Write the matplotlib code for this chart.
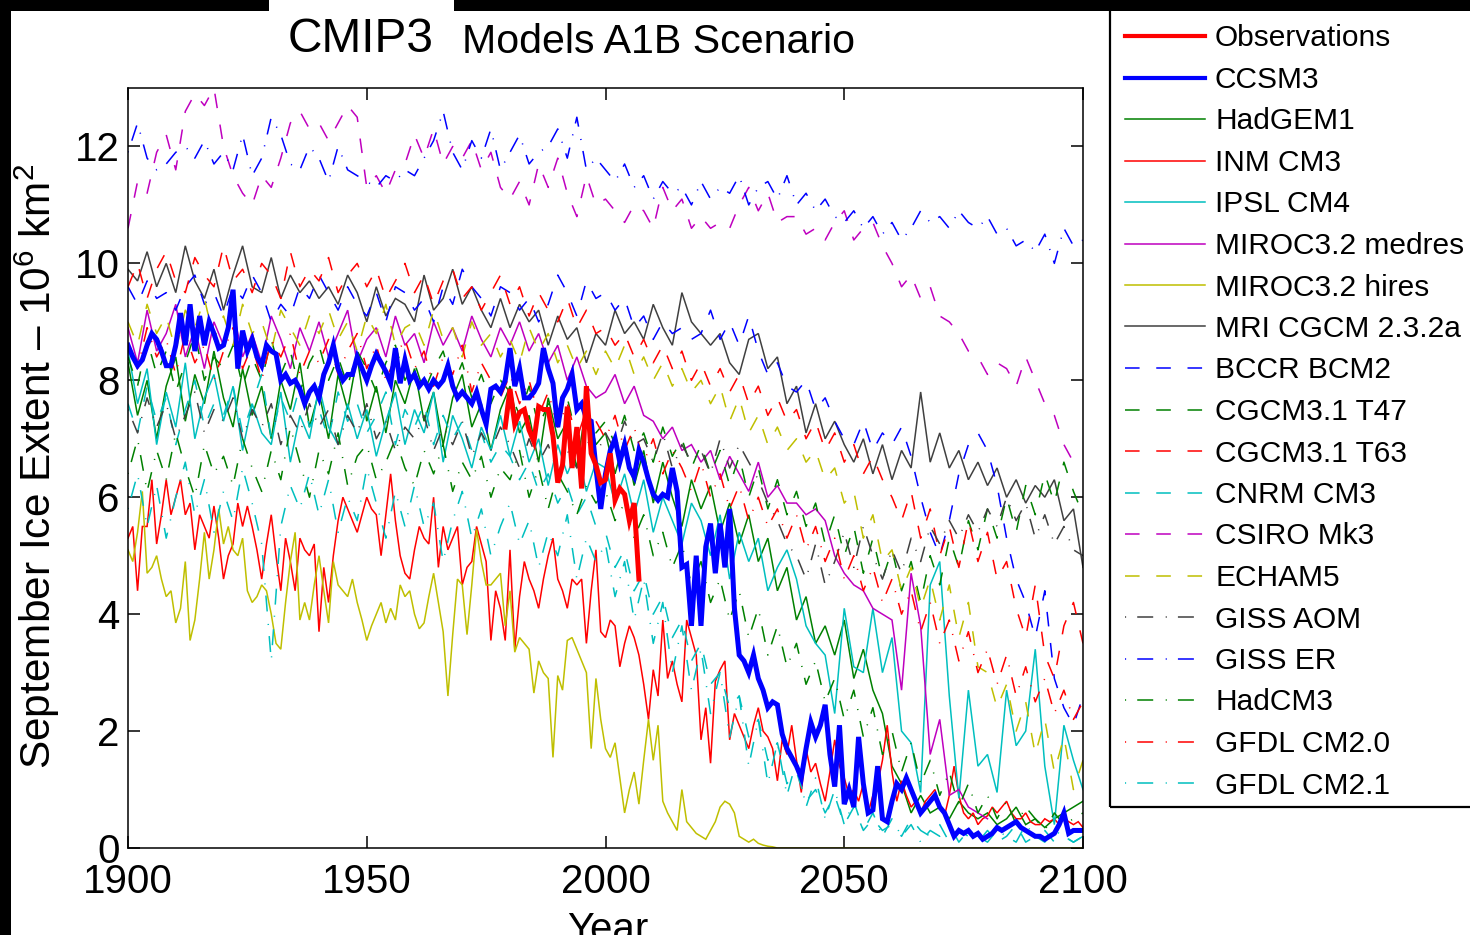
import matplotlib
matplotlib.use('Agg')
import matplotlib.pyplot as plt
from matplotlib.lines import Line2D
from matplotlib.patches import Rectangle

plt.rcParams['font.family'] = ['Liberation Sans', 'DejaVu Sans']
plt.rcParams['mathtext.fontset'] = 'custom'
plt.rcParams['mathtext.rm'] = 'Liberation Sans'
plt.rcParams['mathtext.it'] = 'Liberation Sans:italic'
plt.rcParams['lines.scale_dashes'] = False

# ---------------- data ----------------
YEARS_1 = list(range(1900, 2101))          # yearly series
YEARS_2 = list(range(1900, 2101, 2))       # two-yearly series
YEARS_MEDRES = list(range(1900, 2081, 2))
YEARS_OBS = list(range(1979, 2008))

X_TICKS = [1900, 1950, 2000, 2050, 2100]
Y_TICKS = [0, 2, 4, 6, 8, 10, 12]

obs = [7.2, 7.85, 7.25, 7.45, 7.5, 7.15, 6.95, 7.55, 7.5, 7.5,
       7.05, 6.25, 6.55, 7.55, 6.5, 7.2, 6.15, 7.9, 6.75, 6.55,
       6.25, 6.3, 6.75, 5.95, 6.15, 6.05, 5.6, 5.9, 4.6]

ccsm3 = [8.6, 8.4, 8.25, 8.35, 8.6, 8.8, 8.7, 8.5, 8.25, 8.25,
         8.6, 9.15, 8.6, 9.3, 8.5, 9.1, 8.6, 9.0, 8.8, 8.55,
         8.6, 8.9, 9.55, 8.2, 8.85, 8.5, 8.7, 8.4, 8.25, 8.6,
         8.5, 8.45, 8.0, 8.1, 7.95, 8.0, 7.85, 7.6, 7.8, 7.9,
         7.7, 8.1, 8.3, 8.6, 8.2, 8.0, 8.1, 8.1, 8.4, 8.2,
         8.0, 8.25, 8.45, 8.3, 8.15, 7.95, 8.55, 7.95, 8.35, 8.0,
         8.1, 7.9, 8.0, 7.85, 8.0, 7.9, 8.0, 8.25, 7.9, 7.7,
         7.8, 7.7, 7.6, 7.8, 7.5, 7.25, 7.85, 7.9, 7.8, 8.0,
         8.55, 7.9, 8.2, 7.7, 7.7, 7.8, 7.95, 8.55, 8.2, 7.95,
         7.2, 7.7, 7.85, 8.1, 7.5, 7.6, 7.35, 7.3, 6.5, 5.8,
         6.4, 6.8, 7.0, 6.6, 6.9, 6.5, 6.35, 6.8, 6.6, 6.3,
         6.05, 5.95, 6.05, 6.0, 6.5, 6.1, 4.8, 4.85, 3.8, 5.0,
         3.8, 5.15, 5.55, 4.7, 5.55, 4.8, 5.8, 4.1, 3.3, 3.2,
         3.0, 3.3, 2.9, 2.7, 2.4, 2.5, 2.45, 1.95, 1.7, 1.55,
         1.4, 1.2, 1.7, 2.15, 1.9, 2.1, 2.45, 1.6, 1.05, 2.1,
         0.75, 1.0, 0.7, 1.9, 1.1, 0.6, 0.65, 1.4, 0.5, 0.45,
         0.8, 1.1, 1.0, 1.2, 1.0, 0.8, 0.6, 0.7, 0.8, 0.9,
         0.7, 0.6, 0.4, 0.2, 0.3, 0.25, 0.3, 0.2, 0.25, 0.15,
         0.2, 0.25, 0.35, 0.3, 0.35, 0.4, 0.45, 0.35, 0.3, 0.25,
         0.2, 0.2, 0.15, 0.2, 0.25, 0.4, 0.6, 0.25, 0.3, 0.3,
         0.3]

hadgem1 = [8.3, 7.4, 8.0, 7.0, 7.9, 8.4, 7.3, 8.1, 7.6, 8.5,
           7.7, 7.2, 8.2, 7.4, 7.9, 7.0, 8.0, 7.5, 8.3, 7.2,
           7.8, 7.0, 8.1, 7.5, 8.4, 7.3, 7.9, 7.1, 8.0, 7.6,
           8.2, 7.3, 7.8, 6.9, 7.7, 8.1, 7.2, 7.6, 6.8, 7.5,
           7.9, 7.1, 7.4, 6.6, 7.7, 7.0, 7.3, 6.5, 7.6, 6.9,
           7.1, 6.4, 7.0, 6.2, 6.8, 5.9, 6.6, 6.0, 5.5, 6.3,
           5.8, 6.2, 5.4, 5.9, 5.2, 5.7, 4.9, 5.3, 4.4, 4.8,
           3.9, 4.3, 3.5, 3.8, 3.3, 3.9, 2.9, 3.4, 2.7, 2.3,
           1.4, 1.1, 0.6, 0.9, 0.6, 0.7, 0.5, 0.8, 0.6, 0.5,
           0.6, 0.4, 0.5, 0.7, 0.4, 0.5, 0.35, 0.5, 0.6, 0.7,
           0.8]

inm_cm3 = [5.3, 5.5, 4.4, 5.5, 5.5, 6.3, 5.2, 5.7, 6.3, 5.7,
           6.0, 6.3, 5.7, 5.9, 5.1, 5.7, 5.5, 5.3, 5.85, 5.3,
           4.6, 5.0, 5.2, 5.9, 5.5, 5.85, 5.5, 5.1, 4.6, 5.2,
           5.7, 5.0, 4.4, 5.3, 4.9, 4.4, 5.3, 5.1, 5.0, 5.2,
           3.7, 4.8, 4.2, 5.0, 5.6, 6.0, 5.8, 5.6, 5.4, 5.7,
           6.0, 5.8, 5.7, 5.0, 5.7, 6.4, 5.6, 5.0, 4.7, 4.6,
           5.1, 5.5, 5.3, 5.2, 6.0, 4.8, 5.5, 5.1, 5.3, 5.5,
           4.5, 4.8, 4.9, 5.5, 5.2, 4.9, 3.55, 4.4, 4.1, 3.55,
           5.1, 3.4, 4.3, 4.9, 4.6, 4.4, 4.1, 4.6, 5.0, 5.3,
           4.6, 4.4, 4.1, 4.6, 4.5, 4.6, 3.5, 4.4, 5.1, 3.7,
           3.6, 3.9, 3.8, 3.1, 3.5, 3.8, 3.6, 3.3, 2.8, 2.2,
           3.05, 2.6, 3.9, 2.9, 3.2, 2.8, 2.5, 3.9, 3.6, 3.3,
           1.85, 2.4, 1.45, 2.85, 3.05, 3.2, 1.85, 2.3, 2.1, 1.9,
           1.7, 2.1, 2.4, 2.0, 1.9, 1.7, 1.15, 1.85, 1.6, 2.1,
           1.5, 0.95, 1.7, 1.3, 1.45, 1.1, 0.8, 1.3, 1.85, 1.4,
           1.2, 0.9, 1.0, 0.8, 1.1, 0.6, 0.9, 1.1, 1.5, 2.1,
           1.3, 0.8, 1.15, 0.9, 0.7, 0.8, 0.6, 0.8, 0.9, 1.0,
           0.7, 0.55, 0.9, 1.4, 0.9, 0.6, 0.5, 0.6, 0.4, 0.5,
           0.55, 0.7, 0.6, 0.7, 0.8, 0.6, 0.5, 0.5, 0.6, 0.45,
           0.4, 0.4, 0.5, 0.45, 0.5, 0.4, 0.5, 0.45, 0.4, 0.45,
           0.35]

ipsl_cm4 = [8.5, 7.6, 8.2, 6.9, 7.8, 7.2, 8.3, 7.0, 7.7, 8.1,
            7.3, 7.9, 6.8, 7.6, 7.1, 6.9, 7.8, 6.6, 7.4, 7.0,
            7.9, 7.2, 6.9, 7.6, 7.0, 7.5, 6.7, 7.3, 7.8, 6.9,
            7.5, 7.1, 7.8, 6.6, 7.4, 7.0, 6.5, 7.2, 6.8, 7.4,
            6.7, 7.3, 6.6, 7.0, 6.2, 6.9, 6.4, 6.8, 6.1, 6.6,
            6.5, 5.9, 6.4, 5.7, 6.3, 5.4, 6.0, 5.6, 5.2, 5.9,
            5.6, 5.0, 5.7, 4.6, 5.4, 4.9, 5.3, 4.4, 4.8, 5.1,
            4.6, 3.8, 3.5, 3.3, 2.3, 4.1, 3.1, 3.0, 4.1, 3.0,
            3.6, 2.0, 1.8, 0.95, 4.5, 4.9, 2.6, 0.85, 2.7, 1.4,
            1.6, 0.95, 2.7, 1.75, 2.0, 3.4, 1.4, 0.4, 2.1, 1.5,
            1.0]

miroc_medres = [8.9, 8.3, 9.2, 8.5, 8.8, 9.3, 8.4, 8.9, 8.2, 9.0,
                8.6, 9.2, 8.4, 8.8, 8.3, 9.1, 8.7, 8.2, 8.9, 8.5,
                9.0, 8.4, 8.8, 9.2, 8.3, 8.7, 8.9, 8.4, 9.1, 8.6,
                8.8, 8.3, 9.0, 8.6, 8.9, 8.5, 9.1, 8.7, 8.4, 8.9,
                8.6, 9.0, 8.5, 8.8, 8.3, 8.6, 8.0, 8.4, 7.9, 7.7,
                7.8, 8.1, 7.6, 7.9, 7.4, 7.3, 7.0, 7.2, 6.8, 6.9,
                6.6, 6.8, 6.3, 6.7, 6.4, 6.1, 6.6, 6.0, 6.2, 5.9,
                5.9, 5.7, 5.8, 5.6, 5.0, 4.7, 4.5, 4.4, 4.1, 4.0,
                3.9, 2.7, 4.7, 3.8, 1.6, 2.2, 0.9, 1.0, 0.7, 0.6,
                0.5]

miroc_hires = [5.1, 4.9, 5.4, 6.1, 4.7, 4.8, 5.0, 4.6, 4.3, 4.4,
               3.85, 4.1, 4.9, 3.55, 3.9, 4.6, 5.4, 4.6, 5.1, 5.8,
               5.2, 5.5, 5.1, 5.0, 5.3, 4.4, 4.2, 4.3, 4.5, 4.4,
               4.0, 3.5, 3.4, 4.2, 4.9, 5.4, 3.9, 4.2, 3.9, 4.5,
               5.0, 4.4, 3.85, 4.9, 4.5, 4.4, 4.3, 4.6, 4.2, 3.9,
               3.55, 3.8, 4.0, 4.2, 3.85, 4.1, 3.9, 4.5, 4.3, 4.4,
               4.0, 3.75, 3.85, 4.3, 4.7, 4.2, 3.7, 2.6, 3.65, 4.6,
               4.5, 3.65, 4.5, 5.45, 4.9, 4.5, 4.5, 4.6, 4.7, 3.8,
               4.4, 3.35, 3.6, 3.5, 3.4, 2.65, 3.2, 3.0, 2.9, 1.55,
               2.95, 2.7, 3.55, 3.6, 3.4, 3.2, 3.0, 1.7, 2.9, 2.2,
               1.7, 1.55, 1.8, 1.2, 0.6, 1.0, 1.3, 0.75, 1.5, 2.2,
               1.5, 2.1, 0.8, 0.6, 0.45, 0.3, 1.0, 0.45, 0.35, 0.25,
               0.2, 0.15, 0.3, 0.45, 0.7, 0.8, 0.75, 0.6, 0.2, 0.15,
               0.1, 0.15, 0.08, 0.05, 0.03, 0.02, 0.0, 0.0, 0.0, 0.0,
               0.0, 0.0, 0.0, 0.0, 0.0, 0.0, 0.0, 0.0, 0.0, 0.0,
               0.0, 0.0, 0.0, 0.0, 0.0, 0.0, 0.0, 0.0, 0.0, 0.0,
               0.0, 0.0, 0.0, 0.0, 0.0, 0.0, 0.0, 0.0, 0.0, 0.0,
               0.0, 0.0, 0.0, 0.0, 0.0, 0.0, 0.0, 0.0, 0.0, 0.0,
               0.0, 0.0, 0.0, 0.0, 0.0, 0.0, 0.0, 0.0, 0.0, 0.0,
               0.0, 0.0, 0.0, 0.0, 0.0, 0.0, 0.0, 0.0, 0.0, 0.0,
               0.0]

mri_cgcm = [9.9, 9.7, 10.2, 9.6, 10.0, 9.5, 10.3, 9.7, 9.4, 9.9,
            9.2, 9.8, 10.3, 9.6, 9.5, 10.1, 9.4, 9.8, 9.5, 9.7,
            9.4, 9.6, 9.3, 9.8, 9.5, 9.0, 9.6, 9.1, 9.4, 9.3,
            9.0, 9.8, 9.2, 9.4, 9.9, 9.3, 9.6, 9.2, 8.9, 9.4,
            8.9, 9.3, 9.0, 9.2, 8.6, 9.1, 8.7, 8.9, 8.3, 8.8,
            8.6, 9.2, 8.8, 9.0, 8.7, 9.3, 8.9, 8.6, 9.5, 9.0,
            8.8, 8.6, 8.8, 8.3, 8.1, 8.7, 8.8, 8.2, 8.4, 7.6,
            7.9, 7.1, 7.6, 7.0, 7.3, 6.9, 6.6, 7.0, 6.4, 6.9,
            6.3, 6.8, 6.5, 7.8, 6.6, 7.1, 6.5, 6.8, 6.3, 6.6,
            6.2, 6.5, 6.0, 6.3, 5.9, 6.2, 6.0, 6.3, 5.6, 5.8,
            4.8]

bccr_bcm2 = [9.6, 9.3, 9.7, 9.4, 9.5, 9.2, 9.6, 9.8, 9.3, 9.5,
             9.1, 9.6, 9.4, 9.8, 9.5, 9.0, 9.3, 9.1, 9.6, 9.4,
             9.8, 9.5, 9.2, 9.6, 9.3, 9.1, 9.5, 9.0, 9.6, 9.5,
             9.2, 9.4, 9.0, 9.6, 9.3, 9.9, 9.6, 9.4, 9.1, 9.6,
             9.5, 9.2, 9.4, 9.0, 9.3, 9.8, 9.5, 9.1, 9.7, 9.4,
             9.5, 9.2, 9.4, 8.9, 9.1, 8.7, 9.0, 8.8, 8.9, 8.7,
             8.8, 9.2, 8.7, 9.0, 8.6, 9.1, 8.5, 8.1, 8.3, 7.9,
             7.8, 8.0, 7.5, 7.7, 7.3, 7.0, 6.9, 7.3, 6.8, 7.1,
             6.9, 7.2, 6.7, 6.0, 5.4, 5.0, 5.6, 6.4, 6.9, 7.1,
             6.8, 6.2, 5.3, 4.6, 4.2, 3.6, 4.4, 2.9, 2.4, 2.1,
             2.6]

cgcm_t47 = [8.4, 7.9, 8.7, 8.1, 8.5, 7.8, 8.3, 8.8, 8.0, 8.4,
            8.2, 8.6, 7.9, 8.4, 8.0, 8.7, 8.1, 8.5, 7.8, 8.3,
            8.6, 8.0, 8.4, 7.9, 8.5, 8.2, 7.8, 8.3, 8.6, 8.0,
            8.3, 7.8, 8.2, 8.5, 7.9, 8.3, 7.7, 8.1, 7.6, 8.0,
            7.8, 7.4, 7.9, 7.2, 7.6, 7.3, 7.7, 7.0, 7.5, 7.1,
            7.3, 6.9, 7.4, 6.8, 7.1, 6.6, 7.2, 6.7, 7.0, 6.5,
            6.9, 6.4, 6.8, 6.2, 6.7, 6.0, 6.5, 5.8, 6.3, 5.7,
            6.1, 5.5, 5.9, 5.2, 5.7, 5.0, 5.5, 4.7, 5.3, 4.6,
            5.1, 4.4, 4.9, 4.2, 5.0, 4.5, 5.3, 4.8, 5.6, 5.1,
            5.8, 5.3, 6.0, 5.4, 6.2, 5.7, 6.4, 5.9, 6.6, 6.1,
            5.7]

cgcm_t63 = [9.6, 10.0, 9.4, 9.9, 10.2, 9.7, 9.5, 10.1, 9.8, 9.6,
            10.3, 9.7, 9.9, 9.5, 10.0, 9.8, 9.4, 10.2, 9.6, 9.9,
            9.7, 10.1, 9.5, 9.8, 10.0, 9.6, 9.9, 9.4, 9.7, 10.0,
            9.5, 9.8, 9.3, 9.7, 9.9, 9.4, 9.6, 9.2, 9.5, 9.8,
            9.3, 9.6, 9.1, 9.5, 9.2, 9.0, 9.4, 8.9, 9.2, 8.8,
            8.9, 8.6, 8.8, 8.4, 8.7, 8.3, 8.6, 8.2, 8.5, 8.0,
            8.3, 7.9, 8.2, 7.8, 8.1, 7.6, 7.9, 7.4, 7.7, 7.3,
            7.5, 7.0, 7.3, 6.8, 7.1, 6.6, 6.9, 6.4, 6.7, 6.3,
            6.0, 5.6, 6.1, 5.3, 5.8, 5.0, 5.5, 4.8, 5.6, 4.9,
            5.4, 4.6, 4.9, 4.1, 3.6, 4.5, 3.3, 2.9, 3.8, 4.2,
            3.5]

cnrm_cm3 = [7.6, 7.1, 7.9, 7.3, 7.7, 6.9, 7.5, 8.0, 7.2, 7.6,
            7.4, 7.9, 7.1, 7.6, 8.1, 7.0, 7.7, 7.3, 7.9, 7.2,
            7.5, 7.0, 7.8, 7.3, 7.6, 7.1, 7.4, 7.8, 6.9, 7.5,
            7.2, 7.6, 6.9, 7.4, 7.0, 7.3, 6.8, 7.1, 6.6, 6.9,
            6.7, 6.3, 6.6, 6.1, 6.4, 5.9, 6.2, 5.7, 6.0, 5.5,
            5.4, 4.8, 5.1, 4.4, 4.7, 4.0, 4.3, 3.6, 3.9, 3.2,
            3.5, 2.8, 3.0, 2.4, 2.6, 1.9, 2.2, 1.5, 1.8, 1.1,
            1.3, 0.8, 1.0, 0.6, 0.9, 0.4, 0.7, 0.3, 0.5, 0.3,
            0.4, 0.2, 0.5, 0.3, 0.2, 0.4, 0.1, 0.3, 0.2, 0.1,
            0.3, 0.1, 0.2, 0.4, 0.1, 0.2, 0.3, 0.1, 0.2, 0.1,
            0.2]

csiro_mk3 = [10.6, 11.4, 11.2, 11.9, 12.2, 11.6, 12.6, 12.9, 12.7, 13.0,
             12.0, 11.5, 11.2, 11.0, 11.5, 11.3, 11.8, 12.4, 12.6, 12.3,
             12.4, 12.1, 12.4, 12.7, 12.5, 11.3, 11.5, 11.2, 11.6, 11.7,
             12.2, 11.8, 12.3, 11.7, 12.0, 11.8, 12.1, 11.6, 11.9, 11.3,
             11.1, 11.4, 11.0, 11.7, 11.3, 11.8, 11.2, 10.8, 11.5, 11.0,
             11.1, 10.9, 10.7, 11.0, 10.9, 10.6, 11.3, 10.9, 11.1, 10.6,
             10.8, 10.6, 10.7, 10.6, 11.0, 11.3, 10.9, 11.2, 10.7, 10.8,
             10.8, 10.5, 10.6, 10.4, 10.7, 10.9, 10.4, 10.6, 10.7, 10.3,
             10.0, 9.6, 9.8, 9.4, 9.6, 9.1, 9.0, 8.8, 8.5, 8.4,
             8.1, 8.3, 8.2, 7.9, 8.4, 8.0, 7.6, 7.4, 6.9, 6.6,
             6.5]

echam5 = [9.0, 8.6, 9.3, 8.8, 9.1, 8.5, 9.2, 8.9, 9.4, 8.7,
          9.1, 8.6, 9.3, 8.8, 9.0, 8.5, 9.2, 8.9, 8.6, 9.1,
          8.8, 9.2, 8.7, 9.0, 8.5, 9.1, 8.8, 9.3, 8.6, 8.9,
          9.0, 8.6, 9.2, 8.7, 8.9, 8.4, 9.0, 8.6, 8.8, 8.4,
          8.7, 8.3, 8.9, 8.5, 8.8, 8.3, 8.6, 8.2, 8.5, 8.1,
          8.5, 8.2, 8.6, 8.1, 8.4, 8.0, 8.3, 7.9, 8.2, 7.8,
          8.0, 7.6, 7.9, 7.3, 7.7, 7.1, 7.4, 6.9, 7.2, 6.8,
          7.0, 6.6, 6.8, 6.3, 6.5, 5.9, 6.1, 5.3, 5.7, 4.9,
          5.1, 4.4, 4.8, 4.1, 4.6, 3.9, 4.5, 3.6, 4.2, 3.1,
          3.0, 2.4, 2.8, 2.0, 2.5, 1.6, 2.2, 1.3, 1.9, 1.0,
          1.5]

giss_aom = [7.5, 7.1, 7.7, 7.2, 7.6, 7.0, 7.4, 7.8, 7.1, 7.5,
            7.3, 7.7, 7.0, 7.5, 7.2, 7.6, 6.9, 7.4, 7.1, 7.6,
            7.2, 7.5, 6.9, 7.4, 7.1, 7.6, 7.0, 7.3, 6.8, 7.2,
            7.0, 7.4, 6.8, 7.2, 6.9, 7.3, 6.7, 7.1, 6.8, 7.2,
            6.9, 6.5, 7.0, 6.6, 6.9, 6.4, 6.8, 6.5, 7.0, 6.7,
            7.1, 6.8, 7.3, 6.9, 7.0, 6.6, 7.1, 6.5, 6.9, 6.6,
            6.8, 6.4, 7.0, 6.5, 6.9, 6.6, 6.3, 5.9, 5.6, 5.2,
            5.0, 4.6, 5.2, 4.5, 4.9, 5.4, 4.8, 5.5, 5.0, 4.6,
            5.1, 4.7, 5.3, 4.9, 5.5, 5.2, 5.6, 5.3, 5.7, 5.4,
            5.8, 5.5, 6.0, 5.6, 5.9, 5.3, 5.7, 5.2, 5.5, 5.1,
            5.0]

giss_er = [11.9, 12.4, 11.8, 11.6, 11.7, 11.9, 12.0, 11.8, 12.1, 11.7,
           11.9, 11.6, 12.2, 11.5, 11.8, 12.5, 12.2, 11.7, 11.6, 12.0,
           11.8, 11.4, 12.0, 11.6, 11.5, 11.4, 11.3, 11.5, 11.4, 11.6,
           11.5, 11.8, 12.1, 12.6, 11.9, 11.6, 12.1, 11.8, 12.3, 11.6,
           11.9, 12.2, 11.7, 11.9, 12.0, 12.3, 11.8, 12.5, 11.6, 11.8,
           11.6, 11.4, 11.7, 11.3, 11.5, 11.1, 11.4, 11.2, 11.3, 11.0,
           11.4, 11.1, 11.3, 11.2, 11.5, 11.0, 11.3, 11.4, 11.1, 11.5,
           11.0, 11.2, 10.9, 11.1, 10.8, 10.7, 10.9, 10.6, 10.8, 10.5,
           10.7, 10.4, 10.6, 10.9, 10.7, 10.8, 10.6, 10.9, 10.7, 10.6,
           10.8, 10.5, 10.6, 10.3, 10.4, 10.2, 10.5, 10.0, 10.6, 10.3,
           10.4]

hadcm3 = [6.4, 7.0, 6.1, 6.8, 6.3, 7.1, 6.5, 6.0, 6.9, 6.4,
          6.7, 6.2, 7.0, 6.5, 6.1, 6.8, 6.3, 7.2, 6.6, 6.0,
          6.8, 6.4, 7.1, 6.2, 6.7, 6.9, 6.3, 6.6, 7.0, 6.5,
          6.2, 6.8, 6.4, 6.9, 6.1, 6.6, 6.3, 6.7, 6.0, 6.5,
          6.3, 6.8, 6.0, 6.5, 5.8, 6.4, 6.1, 5.7, 6.2, 5.9,
          6.1, 5.6, 5.9, 5.3, 5.7, 5.0, 5.4, 4.8, 5.2, 4.5,
          4.9, 4.2, 4.6, 3.9, 4.4, 3.6, 4.1, 3.3, 3.8, 3.1,
          3.5, 2.8, 3.2, 2.5, 2.9, 2.2, 2.7, 1.9, 2.4, 1.6,
          2.0, 1.3, 1.8, 1.1, 1.5, 0.9, 1.3, 0.7, 1.1, 0.6,
          0.9, 0.5, 0.8, 0.4, 0.7, 0.5, 0.3, 0.6, 0.4, 0.5,
          0.6]

gfdl_cm20 = [8.6, 8.2, 8.9, 8.4, 8.7, 8.1, 8.8, 8.3, 8.6, 8.0,
             8.5, 8.9, 8.2, 8.6, 8.0, 8.7, 8.4, 8.8, 8.1, 8.5,
             8.3, 8.7, 8.1, 8.5, 8.8, 8.2, 8.6, 8.0, 8.4, 8.7,
             8.2, 8.5, 7.9, 8.4, 8.1, 8.6, 7.8, 8.3, 8.0, 7.7,
             8.1, 7.6, 8.0, 7.4, 7.8, 7.2, 7.6, 7.0, 7.5, 7.3,
             7.0, 7.4, 6.8, 7.2, 6.6, 7.0, 6.4, 6.8, 6.5, 6.1,
             6.6, 6.0, 6.4, 5.8, 6.2, 5.6, 6.0, 5.5, 5.8, 5.3,
             5.7, 5.1, 5.5, 4.9, 5.3, 4.6, 5.0, 4.4, 4.8, 4.2,
             4.6, 4.0, 4.4, 3.7, 4.2, 3.5, 3.9, 3.2, 3.7, 3.0,
             3.4, 2.8, 3.3, 2.6, 3.1, 2.5, 2.9, 2.3, 2.7, 2.2,
             2.5]

gfdl_cm21 = [5.8, 6.4, 5.5, 6.2, 5.3, 6.0, 6.6, 5.7, 6.3, 5.4,
             6.1, 5.6, 6.5, 5.9, 5.2, 3.2, 5.5, 6.2, 5.8, 6.4,
             5.7, 6.3, 5.4, 6.0, 5.6, 6.5, 5.9, 5.3, 6.1, 5.5,
             6.2, 5.5, 5.9, 4.9, 5.6, 6.1, 5.3, 5.8, 5.0, 5.5,
             5.9, 5.2, 5.6, 4.8, 5.4, 5.0, 5.7, 4.6, 5.3, 4.9,
             5.2, 4.3, 4.9, 3.9, 4.6, 3.5, 4.2, 3.0, 3.8, 2.7,
             3.4, 2.3, 3.0, 1.9, 2.6, 1.4, 2.2, 1.1, 1.8, 0.9,
             1.5, 0.7, 1.2, 0.5, 1.0, 0.4, 0.8, 0.3, 0.6, 0.2,
             0.5, 0.2, 0.4, 0.1, 0.3, 0.2, 0.4, 0.1, 0.3, 0.2,
             0.1, 0.3, 0.2, 0.1, 0.4, 0.2, 0.1, 0.3, 0.2, 0.1,
             0.2]

# ---------------- styles ----------------
C_BLUE = (0, 0, 1)
C_GREEN = (0, 0.5, 0)
C_RED = (1, 0, 0)
C_CYAN = (0, 0.75, 0.75)
C_MAG = (0.75, 0, 0.75)
C_YEL = (0.75, 0.75, 0)
C_GRAY = (0.25, 0.25, 0.25)

SOLID = '-'
DASH = (0, (10.5, 12.0))
DASHDOT = (0, (0.8, 8.0, 11.5, 9.0))
THIN = 1.1
THICK = 3.6

series = [
    ('Observations', YEARS_OBS, obs, C_RED, SOLID, THICK),
    ('CCSM3', YEARS_1, ccsm3, C_BLUE, SOLID, THICK),
    ('HadGEM1', YEARS_2, hadgem1, C_GREEN, SOLID, THIN),
    ('INM CM3', YEARS_1, inm_cm3, C_RED, SOLID, THIN),
    ('IPSL CM4', YEARS_2, ipsl_cm4, C_CYAN, SOLID, THIN),
    ('MIROC3.2 medres', YEARS_MEDRES, miroc_medres, C_MAG, SOLID, THIN),
    ('MIROC3.2 hires', YEARS_1, miroc_hires, C_YEL, SOLID, THIN),
    ('MRI CGCM 2.3.2a', YEARS_2, mri_cgcm, C_GRAY, SOLID, THIN),
    ('BCCR BCM2', YEARS_2, bccr_bcm2, C_BLUE, DASH, THIN),
    ('CGCM3.1 T47', YEARS_2, cgcm_t47, C_GREEN, DASH, THIN),
    ('CGCM3.1 T63', YEARS_2, cgcm_t63, C_RED, DASH, THIN),
    ('CNRM CM3', YEARS_2, cnrm_cm3, C_CYAN, DASH, THIN),
    ('CSIRO Mk3', YEARS_2, csiro_mk3, C_MAG, DASH, THIN),
    ('ECHAM5', YEARS_2, echam5, C_YEL, DASH, THIN),
    ('GISS AOM', YEARS_2, giss_aom, C_GRAY, DASHDOT, THIN),
    ('GISS ER', YEARS_2, giss_er, C_BLUE, DASHDOT, THIN),
    ('HadCM3', YEARS_2, hadcm3, C_GREEN, DASHDOT, THIN),
    ('GFDL CM2.0', YEARS_2, gfdl_cm20, C_RED, DASHDOT, THIN),
    ('GFDL CM2.1', YEARS_2, gfdl_cm21, C_CYAN, DASHDOT, THIN),
]

# ---------------- figure ----------------
W, H = 1470, 935
fig = plt.figure(figsize=(W / 100, H / 100), dpi=100, facecolor='white')
ax = fig.add_axes([128 / W, 1 - 848 / H, (1083 - 128) / W, (848 - 88) / H])

for i, (lab, xs, ys, col, ls, lw) in enumerate(series):
    z = 2 + i * 0.01
    if lab == 'CCSM3':
        z = 5
    if lab == 'Observations':
        z = 6
    ax.plot(xs, ys, color=col, linestyle=ls, linewidth=lw, zorder=z,
            solid_joinstyle='miter', dash_capstyle='butt')

ax.set_xlim(1900, 2100)
ax.set_ylim(0, 13)
ax.set_xticks(X_TICKS)
ax.set_xticklabels([str(t) for t in X_TICKS])
ax.set_yticks(Y_TICKS)
ax.set_yticklabels([str(t) for t in Y_TICKS])
ax.tick_params(direction='in', length=8.6, width=1.1, top=True, right=True,
               labelsize=29, colors='black')
ax.tick_params(axis='x', pad=11)
ax.tick_params(axis='y', pad=6)
for sp in ax.spines.values():
    sp.set_linewidth(1.1)
    sp.set_zorder(10)

ax.set_ylabel('September Ice Extent \u2013 10$^6$ km$^2$', fontsize=30.5)
ax.yaxis.set_label_coords(-0.069, 0.5026)
ax.set_xlabel('Year', fontsize=29)
ax.xaxis.set_label_coords(0.5026, -0.0829)

# title
fig.text(288 / W, 1 - 52 / H, 'CMIP3', fontsize=34.5, ha='left', va='baseline')
fig.text(462 / W, 1 - 53 / H, 'Models A1B Scenario', fontsize=29.6, ha='left', va='baseline')

# legend (drawn by hand to match the original box)
fig.add_artist(Rectangle((1110 / W, 1 - 807 / H), (1490 - 1110) / W, (807 - 4) / H,
                         transform=fig.transFigure, fill=False, edgecolor='black',
                         linewidth=1.6, clip_on=False, zorder=3))
for i, (lab, xs, ys, col, ls, lw) in enumerate(series):
    yc = 36 + i * 41.5
    lw_leg = 3.0 if lw == THICK else lw
    fig.add_artist(Line2D([1125 / W, 1205 / W], [1 - yc / H, 1 - yc / H],
                          transform=fig.transFigure, color=col, linestyle=ls,
                          linewidth=lw_leg, dash_capstyle='butt', zorder=4))
    fig.text(1215 / W, 1 - (yc + 10.5) / H, lab, fontsize=21.5, ha='left',
             va='baseline', zorder=4)

# black border strips of the original image
for (x0, y0, x1, y1) in [(0, 0, 269, 11), (454, 0, W, 11), (0, 0, 11, H)]:
    fig.add_artist(Rectangle((x0 / W, 1 - y1 / H), (x1 - x0) / W, (y1 - y0) / H,
                             transform=fig.transFigure, facecolor='black',
                             edgecolor='none', zorder=20))

fig.savefig('out.png', dpi=100, facecolor='white')
